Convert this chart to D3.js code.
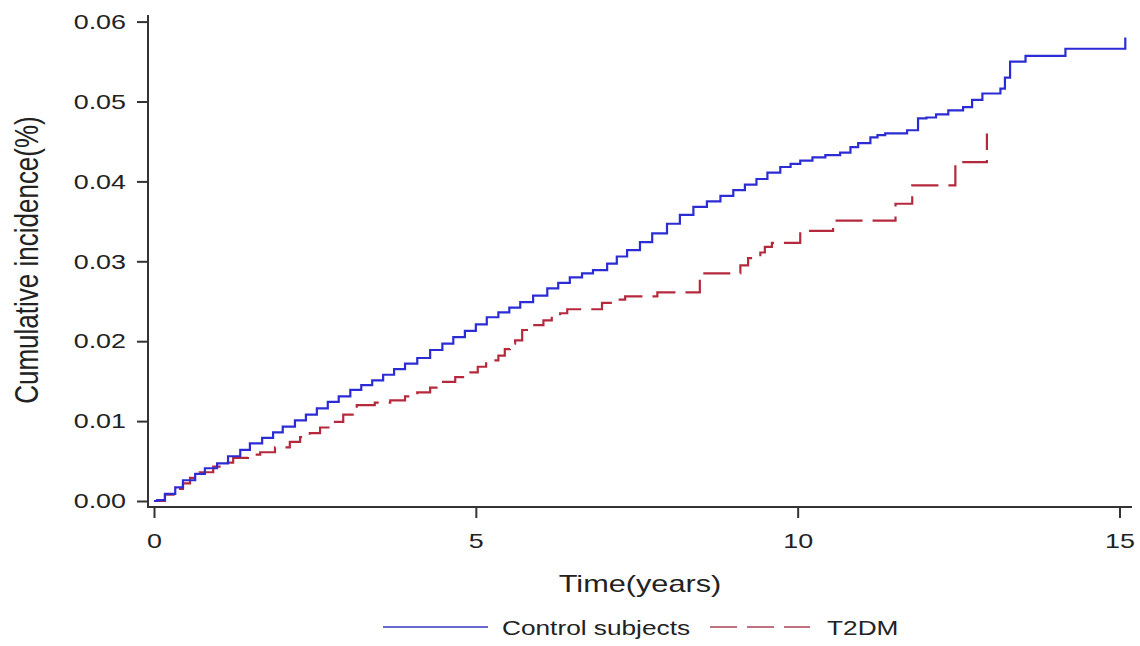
<!DOCTYPE html>
<html>
<head>
<meta charset="utf-8">
<script src="https://cdn.jsdelivr.net/npm/d3@7"></script>
<style>
  body { margin: 0; background: #fff; }
  svg { display: block; }
  text { font-family: "Liberation Sans", Arial, sans-serif; fill: #222; }
</style>
</head>
<body>
<div id="chart"></div>
<script>
// time (years) and cumulative incidence
var controlTime = [0, 0.05, 0.17, 0.33, 0.45, 0.64, 0.79, 0.98, 1.15, 1.34, 1.49, 1.68, 1.85, 2.00,
  2.19, 2.36, 2.53, 2.70, 2.87, 3.05, 3.22, 3.39, 3.56, 3.73, 3.90, 4.09, 4.29, 4.48, 4.65, 4.83,
  5.00, 5.17, 5.35, 5.52, 5.69, 5.89, 6.11, 6.28, 6.46, 6.65, 6.82, 7.04, 7.19, 7.35, 7.55, 7.74,
  7.97, 8.17, 8.38, 8.59, 8.80, 9.00, 9.18, 9.36, 9.53, 9.73, 9.89, 10.04, 10.23, 10.43, 10.66,
  10.82, 10.94, 11.13, 11.24, 11.36, 11.70, 11.87, 12.00, 12.15, 12.34, 12.57, 12.71, 12.87,
  13.15, 13.22, 13.30, 13.54, 14.16, 15.09];
var controlInc = [0, 0.0001, 0.0009, 0.0017, 0.0026, 0.0034, 0.0041, 0.0047, 0.0056, 0.0064, 0.0072,
  0.0079, 0.0086, 0.0093, 0.0101, 0.0108, 0.0116, 0.0124, 0.0131, 0.0139, 0.0145, 0.0151, 0.0158,
  0.0165, 0.0172, 0.0179, 0.0189, 0.0197, 0.0205, 0.0213, 0.0221, 0.0230, 0.0236, 0.0242, 0.0249,
  0.0257, 0.0266, 0.0273, 0.0280, 0.0285, 0.0289, 0.0297, 0.0306, 0.0314, 0.0324, 0.0335, 0.0347,
  0.0358, 0.0368, 0.0375, 0.0382, 0.0389, 0.0396, 0.0403, 0.0411, 0.0418, 0.0422, 0.0426, 0.0430,
  0.0433, 0.0436, 0.0443, 0.0448, 0.0455, 0.0458, 0.0460, 0.0464, 0.0479, 0.0480, 0.0484, 0.0489,
  0.0493, 0.0502, 0.0510, 0.0516, 0.0530, 0.0550, 0.0557, 0.0566, 0.0580];

var t2dmTime = [0, 0.17, 0.33, 0.45, 0.56, 0.71, 0.92, 1.06, 1.23, 1.46, 1.65, 1.88, 2.11, 2.27,
  2.42, 2.58, 2.74, 2.94, 3.15, 3.43, 3.67, 3.90, 4.09, 4.29, 4.49, 4.68, 4.86, 5.03, 5.16, 5.35,
  5.45, 5.53, 5.61, 5.72, 5.84, 6.05, 6.18, 6.31, 6.42, 6.96, 7.13, 7.32, 7.82, 8.48, 9.11, 9.23,
  9.42, 9.49, 9.60, 10.04, 10.55, 11.52, 11.78, 12.45, 12.94];
var t2dmInc = [0, 0.0008, 0.0015, 0.0022, 0.0029, 0.0036, 0.0043, 0.0048, 0.0054, 0.0058, 0.0061,
  0.0067, 0.0074, 0.0080, 0.0085, 0.0092, 0.0099, 0.0108, 0.0120, 0.0123, 0.0126, 0.0131, 0.0136,
  0.0142, 0.0149, 0.0155, 0.0161, 0.0168, 0.0176, 0.0182, 0.0190, 0.0197, 0.0201, 0.0214, 0.0220,
  0.0226, 0.0231, 0.0235, 0.0240, 0.0248, 0.0252, 0.0256, 0.0261, 0.0285, 0.0295, 0.0304, 0.0311,
  0.0318, 0.0323, 0.0338, 0.0351, 0.0372, 0.0395, 0.0424, 0.0460];

var seriesNames = ["Control subjects", "T2DM"];
var xTicks = [0, 5, 10, 15];
var yTicks = [0, 0.01, 0.02, 0.03, 0.04, 0.05, 0.06];

var width = 1140, height = 646;
var SX = 1.28; // the source figure is stretched sideways, text too

var svg = d3.select("#chart").append("svg")
  .attr("width", width)
  .attr("height", height);

var x = d3.scaleLinear().domain([0, 15]).range([154, 1119.5]);
var y = d3.scaleLinear().domain([0, 0.06]).range([501, 21.6]);

var axisColor = "#333";

// y axis
var gy = svg.append("g")
  .attr("transform", "translate(148,0)")
  .call(d3.axisLeft(y).tickValues(yTicks).tickFormat(d3.format(".2f"))
    .tickSize(11).tickPadding(11).tickSizeOuter(0));
gy.select(".domain").remove();
gy.selectAll(".tick line").attr("stroke", axisColor).attr("stroke-width", 2);
gy.selectAll(".tick text")
  .attr("font-size", 21)
  .attr("font-family", null)
  .attr("x", -22 / SX)
  .attr("transform", "scale(" + SX + ",1)");

// x axis
var gx = svg.append("g")
  .attr("transform", "translate(0,507)")
  .call(d3.axisBottom(x).tickValues(xTicks).tickFormat(d3.format("d"))
    .tickSize(11).tickPadding(15).tickSizeOuter(0));
gx.select(".domain").remove();
gx.selectAll(".tick line").attr("stroke", axisColor).attr("stroke-width", 2);
gx.selectAll(".tick text")
  .attr("font-size", 21)
  .attr("font-family", null)
  .attr("transform", "scale(" + SX + ",1)")
  .attr("x", function() { return 0; });
// keep tick labels centred on the tick after the stretch
gx.selectAll(".tick").each(function(d) {
  d3.select(this).select("text").attr("x", 0);
});

// axis lines
svg.append("line").attr("x1", 148).attr("x2", 148).attr("y1", 15).attr("y2", 508)
  .attr("stroke", axisColor).attr("stroke-width", 2);
svg.append("line").attr("x1", 147).attr("x2", 1132).attr("y1", 507).attr("y2", 507)
  .attr("stroke", axisColor).attr("stroke-width", 2);

// axis titles
svg.append("text")
  .attr("transform", "translate(640,592) scale(" + SX + ",1)")
  .attr("text-anchor", "middle")
  .attr("font-size", 24)
  .text("Time(years)");

svg.append("text")
  .attr("transform", "translate(38,260) scale(" + SX + ",1) rotate(-90)")
  .attr("text-anchor", "middle")
  .attr("font-size", 26)
  .text("Cumulative incidence(%)");

// curves
var line = d3.line()
  .x(function(d) { return x(d[0]); })
  .y(function(d) { return y(d[1]); })
  .curve(d3.curveStepAfter);

var controlData = d3.zip(controlTime, controlInc);
var t2dmData = d3.zip(t2dmTime, t2dmInc);

svg.append("path")
  .datum(t2dmData)
  .attr("fill", "none")
  .attr("stroke", "#b42a3c")
  .attr("stroke-width", 2.2)
  .attr("stroke-dasharray", "27,10")
  .attr("d", line);

svg.append("path")
  .datum(controlData)
  .attr("fill", "none")
  .attr("stroke", "#2c2cd4")
  .attr("stroke-width", 2.2)
  .attr("d", line);

// legend
var leg = svg.append("g");
var lx = 383, ly = 627;
leg.append("line").attr("x1", lx).attr("x2", lx + 105).attr("y1", ly).attr("y2", ly)
  .attr("stroke", "#6a6acc").attr("stroke-width", 2);
var t1 = leg.append("text")
  .attr("transform", "translate(" + (lx + 119) + "," + (ly + 8) + ") scale(" + SX + ",1)")
  .attr("font-size", 20.5)
  .text(seriesNames[0]);
var w1 = t1.node().getComputedTextLength() * SX;
var lx2 = lx + 119 + w1 + 20;
leg.append("line").attr("x1", lx2).attr("x2", lx2 + 100).attr("y1", ly).attr("y2", ly)
  .attr("stroke", "#c0707e").attr("stroke-width", 2)
  .attr("stroke-dasharray", "27,10");
leg.append("text")
  .attr("transform", "translate(" + (lx2 + 117) + "," + (ly + 8) + ") scale(" + SX + ",1)")
  .attr("font-size", 20.5)
  .text(seriesNames[1]);
</script>
</body>
</html>
